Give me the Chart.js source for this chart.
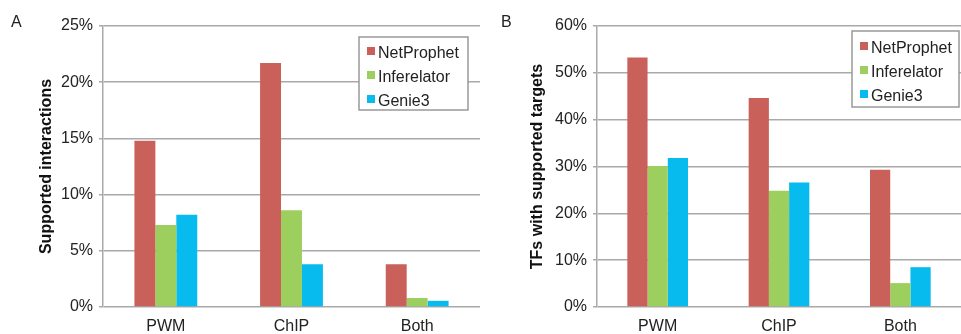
<!DOCTYPE html>
<html>
<head>
<meta charset="utf-8">
<script src="https://cdn.jsdelivr.net/npm/chart.js@4/dist/chart.umd.min.js"></script>
<style>
  html, body { margin: 0; padding: 0; background: #fff; }
  body { width: 961px; height: 334px; position: relative; overflow: hidden; }
  .panel { position: absolute; top: 0; height: 334px; }
  #panelA { left: 0; width: 480px; }
  #panelB { left: 480px; width: 481px; }
</style>
</head>
<body>
<div class="panel" id="panelA"><canvas id="chartA"></canvas></div>
<div class="panel" id="panelB"><canvas id="chartB"></canvas></div>
<script>
// data
const categories = ['PWM', 'ChIP', 'Both'];
const seriesNames = ['NetProphet', 'Inferelator', 'Genie3'];
const seriesColors = ['#C9605A', '#9DCF5E', '#07BBEE'];

// panel A: supported interactions (%)
const netProphetA = [14.8, 21.7, 3.8];
const inferelatorA = [7.3, 8.6, 0.8];
const genie3A = [8.2, 3.8, 0.55];

// panel B: TFs with supported targets (%)
const netProphetB = [53.3, 44.6, 29.3];
const inferelatorB = [30.1, 24.8, 5.1];
const genie3B = [31.8, 26.6, 8.5];

const FONT = '"Liberation Sans", Arial, Helvetica, sans-serif';
const GRID = '#a9a9a9';

// legend box inside the plot + panel letter
const boxLegend = {
  id: 'boxLegend',
  afterDraw(chart, args, opts) {
    const c = chart.ctx;
    c.save();
    c.font = '16px ' + FONT;
    c.fillStyle = '#222';
    c.textBaseline = 'alphabetic';
    c.fillText(opts.letter, opts.letterX, opts.letterY);

    c.fillStyle = '#fff';
    c.fillRect(opts.x, opts.y, opts.w, opts.h);
    c.strokeStyle = '#999';
    c.lineWidth = 1.5;
    c.strokeRect(opts.x, opts.y, opts.w, opts.h);

    c.textBaseline = 'middle';
    chart.data.datasets.forEach((ds, i) => {
      const cy = opts.y + opts.first + i * 24;
      c.fillStyle = ds.backgroundColor;
      c.fillRect(opts.x + 8, cy - 6, 8, 8);
      c.fillStyle = '#222';
      c.fillText(ds.label, opts.x + 19, cy + 1);
    });
    c.restore();
  }
};

function makeChart(id, values, maxY, title, padLeft, axisWidth, legendOpts) {
  new Chart(document.getElementById(id), {
    type: 'bar',
    data: {
      labels: categories,
      datasets: values.map((v, i) => ({
        label: seriesNames[i],
        data: v,
        backgroundColor: seriesColors[i],
        borderWidth: 0,
        categoryPercentage: 0.5,
        barPercentage: 1.0,
      })),
    },
    options: {
      responsive: true,
      maintainAspectRatio: false,
      animation: false,
      layout: { padding: { left: padLeft, top: 26, right: 0, bottom: 0 } },
      plugins: {
        legend: { display: false },
        tooltip: { enabled: false },
        boxLegend: legendOpts,
      },
      scales: {
        x: {
          grid: { display: false, drawTicks: false },
          border: { display: false },
          ticks: { color: '#222', font: { family: FONT, size: 16 }, padding: 10 },
          afterFit: s => { s.height = 27; },
        },
        y: {
          min: 0,
          max: maxY,
          grid: { color: GRID, lineWidth: 1.5, tickLength: 4, tickColor: GRID },
          border: { display: true, color: GRID, width: 1.5 },
          ticks: {
            color: '#222',
            font: { family: FONT, size: 16 },
            padding: 6,
            stepSize: maxY === 25 ? 5 : 10,
            callback: v => v + '%',
          },
          title: {
            display: true,
            text: title,
            color: '#111',
            font: { family: FONT, size: 16, weight: 'bold' },
            padding: { top: 0, bottom: 0 },
          },
          afterFit: s => { s.width = axisWidth; },
        },
      },
    },
    plugins: [boxLegend],
  });
}

makeChart('chartA', [netProphetA, inferelatorA, genie3A], 25, 'Supported interactions', 37, 66,
  { letter: 'A', letterX: 11, letterY: 27, x: 359, y: 37, w: 109, h: 73, first: 16 });
makeChart('chartB', [netProphetB, inferelatorB, genie3B], 60, 'TFs with supported targets', 48, 69,
  { letter: 'B', letterX: 21, letterY: 27, x: 372, y: 31, w: 107, h: 76, first: 17 });
</script>
</body>
</html>
